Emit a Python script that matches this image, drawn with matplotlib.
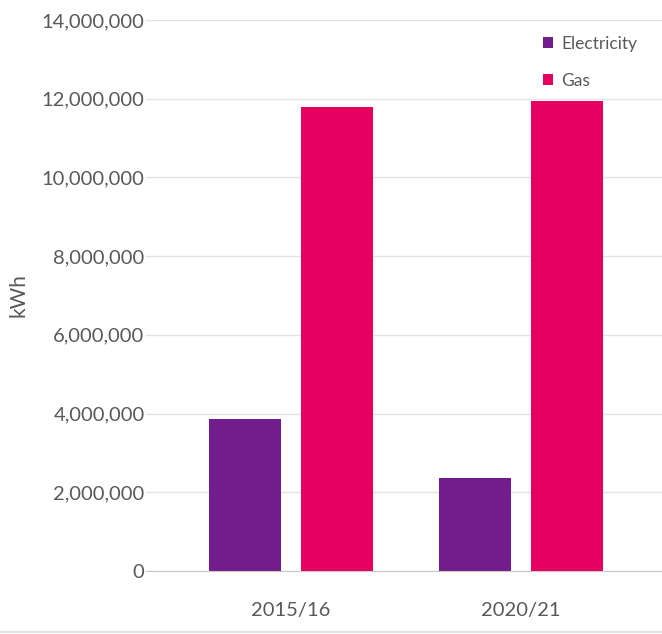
import matplotlib
matplotlib.use("Agg")
import matplotlib.pyplot as plt
from matplotlib.ticker import FuncFormatter
from matplotlib.lines import Line2D
import numpy as np

years = ["2015/16", "2020/21"]
electricity = [3870000, 2370000]
gas = [11780000, 11930000]
series_names = ["Electricity", "Gas"]
colors = ["#731c8c", "#e6005f"]

plt.rcParams["font.family"] = ["Lato", "DejaVu Sans"]
text_color = "#595959"

W, H = 662, 634
fig = plt.figure(figsize=(W / 100, H / 100), dpi=100)
ax = fig.add_axes([146 / W, 1 - 571 / H, (662 - 146) / W, (571 - 20) / H])

x = np.arange(len(years))
width = 0.313
offset = 0.2
ax.bar(x - offset, electricity, width, color=colors[0], label=series_names[0], zorder=3)
ax.bar(x + offset, gas, width, color=colors[1], label=series_names[1], zorder=3)

ax.set_ylim(0, 14000000)
ax.set_yticks(np.arange(0, 14000001, 2000000))
ax.yaxis.set_major_formatter(FuncFormatter(lambda v, p: f"{int(v):,}"))
ax.set_xlim((146 - 291) / 230, (662 - 291) / 230)
ax.set_xticks(x)
ax.set_xticklabels(years)

ax.grid(axis="y", color="#e3e3e3", linewidth=1, zorder=0)
for s in ["top", "right", "left"]:
    ax.spines[s].set_visible(False)
ax.spines["bottom"].set_color("#c8c8c8")
ax.spines["bottom"].set_zorder(4)
ax.tick_params(axis="both", length=0, labelsize=14.5, colors=text_color)
ax.tick_params(axis="y", pad=1)
ax.tick_params(axis="x", pad=22)
ax.set_ylabel("kWh", fontsize=15, color=text_color)
ax.yaxis.set_label_coords(-118 / (662 - 146), 0.5)

leg = ax.legend(loc="upper left", bbox_to_anchor=((536 - 146) / (662 - 146), 0.984),
                frameon=False, fontsize=12.5, handlelength=0.6, handleheight=0.6,
                handletextpad=0.45, labelspacing=1.2, labelcolor=text_color,
                borderaxespad=0)

# thin separator along the bottom edge
fig.add_artist(Line2D([0, 1], [1 - 632 / H, 1 - 632 / H], color="#e0e0e0",
                      linewidth=1.5, transform=fig.transFigure))

fig.savefig("out.png", dpi=100, facecolor="white")
